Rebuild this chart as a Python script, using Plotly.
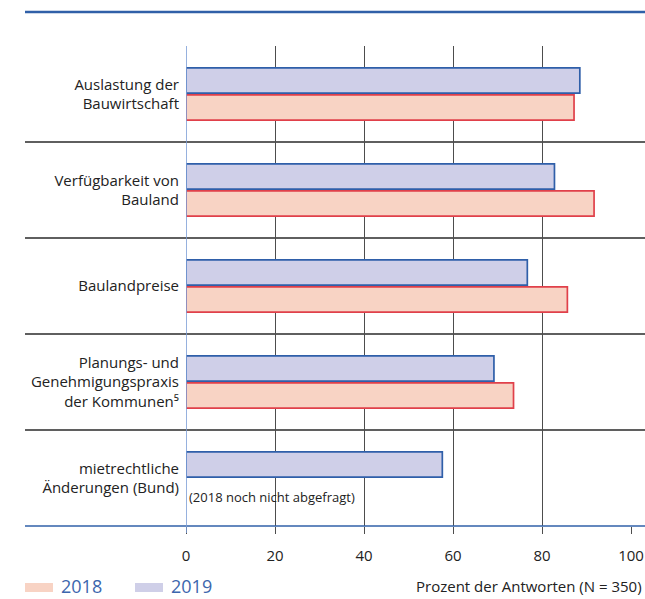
import plotly.graph_objects as go

categories = [
    "Auslastung der<br>Bauwirtschaft",
    "Verfügbarkeit von<br>Bauland",
    "Baulandpreise",
    "Planungs- und<br>Genehmigungspraxis<br>der Kommunen⁵",
    "mietrechtliche<br>Änderungen (Bund)",
]
values_2018 = [87.2, 91.7, 85.7, 73.6, None]
values_2019 = [88.5, 82.8, 76.7, 69.2, 57.6]
x_ticks = [0, 20, 40, 60, 80, 100]
series_names = ["2018", "2019"]
note_text = "(2018 noch nicht abgefragt)"
axis_title = "Prozent der Antworten (N = 350)"

W, H = 645, 599
ML = 186
MR = W - 631
MT = 46
MB = H - 526
PW, PH = W - ML - MR, H - MT - MB


def px_x(p):
    return (p - ML) / PW


def px_y(p):
    return (H - MB - p) / PH


FONT = "Open Sans, Liberation Sans, Arial, sans-serif"
C18_FILL, C18_LINE = "#F8D3C4", "#E0404A"
C19_FILL, C19_LINE = "#CFCFE8", "#2F5FA9"
BLUE = "#3060A8"
LEG_TXT = "#3C66AD"
GRID = "#4d4d4d"
SEP = "#2a2a2a"
TXT = "#222222"

fig = go.Figure()
fig.add_trace(go.Bar(
    y=categories, x=values_2019, orientation="h", name=series_names[1],
    marker=dict(color=C19_FILL, line=dict(color=C19_LINE, width=1.7)),
    showlegend=False,
))
fig.add_trace(go.Bar(
    y=categories, x=values_2018, orientation="h", name=series_names[0],
    marker=dict(color=C18_FILL, line=dict(color=C18_LINE, width=1.7)),
    showlegend=False,
))

shapes = []
# top and bottom blue rules
shapes.append(dict(type="line", xref="paper", yref="paper",
                   x0=px_x(25), x1=px_x(645), y0=px_y(12), y1=px_y(12),
                   line=dict(color=BLUE, width=2.5)))
shapes.append(dict(type="line", xref="paper", yref="paper",
                   x0=px_x(25), x1=px_x(645), y0=0, y1=0,
                   line=dict(color=BLUE, width=1.5)))
# category separators
for i in range(len(categories) - 1):
    shapes.append(dict(type="line", xref="paper", yref="y",
                       x0=px_x(25), x1=px_x(645), y0=i + 0.5, y1=i + 0.5,
                       line=dict(color=SEP, width=1.3), layer="below"))
# zero line
shapes.append(dict(type="line", xref="x", yref="paper",
                   x0=0, x1=0, y0=-7 / PH, y1=1,
                   line=dict(color="#7C9ED6", width=1.6)))
# legend swatches
shapes.append(dict(type="rect", xref="paper", yref="paper",
                   x0=px_x(25), x1=px_x(53), y0=px_y(592), y1=px_y(583),
                   fillcolor=C18_FILL, line=dict(width=0)))
shapes.append(dict(type="rect", xref="paper", yref="paper",
                   x0=px_x(135), x1=px_x(163), y0=px_y(592), y1=px_y(583),
                   fillcolor=C19_FILL, line=dict(width=0)))

annotations = [
    dict(text=series_names[0], xref="paper", yref="paper", x=px_x(59), y=px_y(586),
         xanchor="left", yanchor="middle", showarrow=False,
         font=dict(family=FONT, size=18, color=LEG_TXT)),
    dict(text=series_names[1], xref="paper", yref="paper", x=px_x(169), y=px_y(586),
         xanchor="left", yanchor="middle", showarrow=False,
         font=dict(family=FONT, size=18, color=LEG_TXT)),
    dict(text=axis_title, xref="paper", yref="paper", x=px_x(644), y=px_y(586),
         xanchor="right", yanchor="middle", showarrow=False,
         font=dict(family=FONT, size=15, color=TXT)),
    dict(text=note_text, xref="paper", yref="paper", x=px_x(187), y=px_y(497),
         xanchor="left", yanchor="middle", showarrow=False,
         font=dict(family=FONT, size=13, color=TXT)),
]

fig.update_layout(
    width=W, height=H,
    margin=dict(l=ML, r=MR, t=MT, b=MB, pad=0, autoexpand=False),
    paper_bgcolor="white", plot_bgcolor="white",
    barmode="group", bargap=0.44, bargroupgap=0.06,
    shapes=shapes, annotations=annotations,
    font=dict(family=FONT, color=TXT),
    xaxis=dict(range=[0, 100], tickvals=x_ticks, ticktext=[str(v) for v in x_ticks],
               automargin=False,
               showgrid=True, gridcolor=GRID, gridwidth=1.4,
               zeroline=False, showline=False,
               ticks="outside", ticklen=7, tickcolor=GRID, tickwidth=1.4,
               ticklabelstandoff=9,
               tickfont=dict(family=FONT, size=15, color=TXT),
               fixedrange=True),
    yaxis=dict(autorange="reversed", automargin=False,
               showgrid=False, zeroline=False, showline=False,
               ticks="", ticklabelstandoff=6,
               tickfont=dict(family=FONT, size=15, color=TXT),
               fixedrange=True),
)

fig.write_html(
    "out.html",
    config={"displayModeBar": False},
    post_script="document.body.style.margin='0';document.body.style.overflow='hidden';",
)
